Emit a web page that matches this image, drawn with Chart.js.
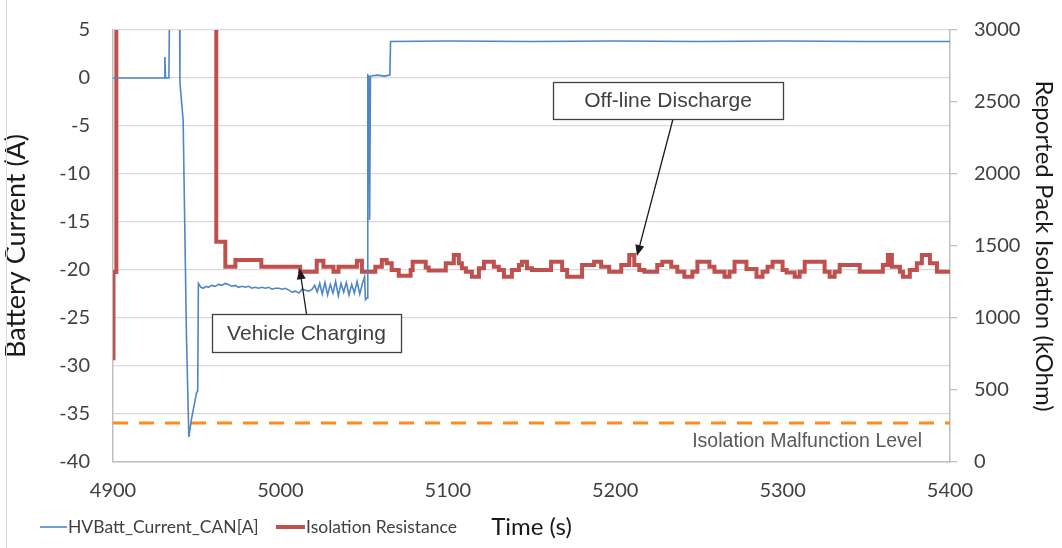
<!DOCTYPE html>
<html lang="en">
<head>
<meta charset="utf-8">
<title>Battery current and pack isolation</title>
<script src="https://cdn.jsdelivr.net/npm/chart.js"></script>
<style>
  html, body { margin: 0; padding: 0; background: #fff; }
  #wrap { position: relative; width: 1062px; height: 548px; }
  canvas { display: block; }
</style>
</head>
<body>
<div id="wrap"><canvas id="chart" width="1062" height="548"></canvas></div>
<script>
// axis ticks
const timeTicks = [4900, 5000, 5100, 5200, 5300, 5400];
const currentTicks = [-40, -35, -30, -25, -20, -15, -10, -5, 0, 5];
const isolationTicks = [0, 500, 1000, 1500, 2000, 2500, 3000];

// HVBatt_Current_CAN[A] (left axis)
const currentTime = [4900, 4930.6, 4931.0, 4931.4, 4933.4, 4934.0, 4939.6, 4940.0, 4941.9, 4943.9, 4945.3,
  4946.8, 4949.9, 4950.6, 4951.0, 4952.5, 4954.0, 4955.5, 4957.0, 4959.0, 4961.0, 4963.0, 4965.0,
  4967.0, 4969.0, 4971.0, 4973.0, 4975.0, 4977.0, 4979.0, 4981.0, 4983.0, 4985.0, 4987.0, 4989.0,
  4991.0, 4993.0, 4995.0, 4997.0, 4999.0, 5001.0, 5003.0, 5005.0, 5007.0, 5009.0, 5011.0, 5013.0,
  5015.0, 5017.0, 5019.0, 5020.5, 5022.0, 5023.5, 5025.0, 5026.6, 5028.2, 5029.8, 5031.4, 5033.0,
  5034.6, 5036.2, 5037.8, 5039.4, 5041.0, 5042.6, 5044.2, 5045.8, 5047.4, 5049.0, 5050.3, 5050.8,
  5051.8, 5052.2, 5052.8, 5053.3, 5053.8, 5058.0, 5062.0, 5065.4, 5065.8, 5100, 5150, 5200, 5250,
  5300, 5350, 5400];
const currentAmps = [0, 0, 2.2, 0, 0, 12, 12, -0.5, -4.4, -27, -37.4,
  -35.6, -32.8, -32.6, -21.4, -21.8, -21.9, -21.7, -21.8, -21.6, -21.7, -21.5, -21.6,
  -21.4, -21.5, -21.7, -21.6, -21.8, -21.7, -21.8, -21.7, -21.9, -21.8, -21.9, -21.8,
  -21.9, -21.8, -22.0, -21.9, -21.9, -22.0, -21.9, -22.1, -22.3, -22.2, -22.4, -22.0,
  -22.1, -22.2, -22.0, -21.6, -22.3, -21.4, -22.5, -21.3, -22.6, -21.5, -22.4, -21.2,
  -22.7, -21.4, -22.3, -21.3, -22.6, -21.5, -22.4, -21.2, -22.5, -21.4, -20.7, -23.1,
  -22.9, 0.3, 0.2, -14.8, 0.2, 0.3, 0.2, 0.3, 3.8, 3.85, 3.8, 3.85, 3.8,
  3.85, 3.8, 3.8];

// Isolation Resistance in kOhm (right axis), value holds until the next time
const isoTime = [4900.0, 4900.3, 4902.0, 4961.7, 4967.1, 4973.1, 4988.6, 5011.8, 5021.7, 5025.7,
  5031.7, 5034.7, 5045.7, 5048.7, 5056.7, 5060.6, 5063.5, 5066.5, 5070.7, 5077.8, 5079.0, 5086.8,
  5088.6, 5098.8, 5103.6, 5106.6, 5108.4, 5110.8, 5114.4, 5118.6, 5121.6, 5127.5, 5130.5, 5133.5,
  5138.3, 5142.5, 5144.3, 5147.3, 5150.3, 5161.7, 5168.3, 5171.3, 5180.2, 5187.4, 5191.6, 5196.4,
  5203.6, 5208.4, 5211.4, 5214.4, 5217.4, 5225.1, 5228.1, 5233.5, 5237.1, 5241.3, 5246.1, 5249.1,
  5256.3, 5259.3, 5265.3, 5268.3, 5271.3, 5278.4, 5284.4, 5288.0, 5291.0, 5294.0, 5300.0, 5302.4,
  5307.2, 5310.2, 5313.2, 5325.1, 5328.1, 5331.1, 5334.1, 5346.1, 5359.9, 5362.9, 5365.3, 5370.1,
  5371.9, 5376.0, 5380.2, 5383.2, 5388.0, 5392.2, 5400.0];
const isoKohm = [720, 1320, 3600, 1530, 1356, 1403, 1356, 1321, 1398, 1356,
  1321, 1356, 1398, 1321, 1356, 1403, 1380, 1333, 1293, 1333, 1391, 1350,
  1330, 1380, 1437, 1380, 1345, 1322, 1287, 1345, 1391, 1356, 1333, 1287,
  1333, 1368, 1391, 1345, 1333, 1391, 1333, 1287, 1368, 1391, 1356, 1322,
  1368, 1437, 1368, 1333, 1322, 1368, 1391, 1356, 1322, 1287, 1322, 1391,
  1356, 1322, 1287, 1322, 1391, 1340, 1287, 1322, 1356, 1391, 1333, 1316,
  1287, 1322, 1391, 1322, 1287, 1322, 1368, 1322, 1368, 1437, 1356, 1322,
  1287, 1333, 1380, 1437, 1380, 1322, 1322];

// Isolation malfunction level (right axis)
const limitTime = [4900, 5400];
const limitKohm = [270, 270];

// callouts: text and the point each arrow points to
const calloutText = ['Vehicle Charging', 'Off-line Discharge'];
const calloutTime = [5011.5, 5213];
const calloutKohm = [1345, 1430];

const toPoints = (xs, ys) => xs.map((x, i) => ({ x: x, y: ys[i] }));
const tickFont = { family: 'Lato', size: 20 };
const plain = v => String(v);
const noPad = s => { s.paddingTop = 0; s.paddingBottom = 0; };

function drawArrow(ctx, sx, sy, tx, ty) {
  const ang = Math.atan2(ty - sy, tx - sx);
  const len = 11, half = 4.5;
  ctx.beginPath();
  ctx.moveTo(sx, sy);
  ctx.lineTo(tx - Math.cos(ang) * len * 0.8, ty - Math.sin(ang) * len * 0.8);
  ctx.stroke();
  ctx.beginPath();
  ctx.moveTo(tx, ty);
  ctx.lineTo(tx - Math.cos(ang) * len - Math.sin(ang) * half, ty - Math.sin(ang) * len + Math.cos(ang) * half);
  ctx.lineTo(tx - Math.cos(ang) * len + Math.sin(ang) * half, ty - Math.sin(ang) * len - Math.cos(ang) * half);
  ctx.closePath();
  ctx.fill();
}

const notes = {
  id: 'notes',
  afterDraw(chart) {
    const { ctx, scales: { x, y2 } } = chart;
    ctx.save();

    // frame edge
    ctx.strokeStyle = '#d9d9d9';
    ctx.lineWidth = 1;
    ctx.beginPath();
    ctx.moveTo(6.5, 0);
    ctx.lineTo(6.5, 548);
    ctx.stroke();

    // legend
    ctx.font = '17.5px Lato';
    ctx.fillStyle = '#404040';
    ctx.textBaseline = 'middle';
    ctx.textAlign = 'left';
    ctx.strokeStyle = '#4f86c6';
    ctx.lineWidth = 1.6;
    ctx.beginPath(); ctx.moveTo(40, 527); ctx.lineTo(67, 527); ctx.stroke();
    ctx.fillText(chart.data.datasets[0].label, 68, 527);
    ctx.strokeStyle = '#c0504d';
    ctx.lineWidth = 4;
    ctx.beginPath(); ctx.moveTo(276, 527); ctx.lineTo(305, 527); ctx.stroke();
    ctx.fillText(chart.data.datasets[1].label, 306, 527);

    // malfunction level label
    ctx.font = '19.5px "Liberation Sans"';
    ctx.fillStyle = '#595959';
    ctx.textAlign = 'right';
    ctx.fillText(chart.data.datasets[2].label, 922, 442);

    // callout boxes with arrows
    const boxes = [
      { left: 212, top: 314, w: 189, h: 38, sx: 306.5, sy: 314 },
      { left: 553, top: 82, w: 230, h: 37, sx: 673, sy: 119 }
    ];
    calloutText.forEach((text, i) => {
      const b = boxes[i];
      const tx = x.getPixelForValue(calloutTime[i]);
      const ty = y2.getPixelForValue(calloutKohm[i]);
      ctx.strokeStyle = '#1a1a1a';
      ctx.fillStyle = '#1a1a1a';
      ctx.lineWidth = 1.3;
      drawArrow(ctx, b.sx, b.sy, tx, ty);
      ctx.fillStyle = '#fff';
      ctx.fillRect(b.left, b.top, b.w, b.h);
      ctx.strokeStyle = '#404040';
      ctx.lineWidth = 1.3;
      ctx.strokeRect(b.left + 0.5, b.top + 0.5, b.w, b.h);
      ctx.font = '21px "Liberation Sans"';
      ctx.fillStyle = '#404040';
      ctx.textAlign = 'center';
      ctx.fillText(text, b.left + b.w / 2, b.top + b.h / 2 + 1);
    });
    ctx.restore();
  }
};

new Chart(document.getElementById('chart'), {
  type: 'line',
  data: {
    datasets: [
      {
        label: 'HVBatt_Current_CAN[A]',
        data: toPoints(currentTime, currentAmps),
        yAxisID: 'y',
        borderColor: '#4f86c6',
        borderWidth: 1.6,
        pointRadius: 0,
        order: 0
      },
      {
        label: 'Isolation Resistance',
        data: toPoints(isoTime, isoKohm),
        yAxisID: 'y2',
        borderColor: '#c0504d',
        borderWidth: 4,
        stepped: 'before',
        pointRadius: 0,
        order: 1
      },
      {
        label: 'Isolation Malfunction Level',
        data: toPoints(limitTime, limitKohm),
        yAxisID: 'y2',
        borderColor: '#ff8a1e',
        borderWidth: 3,
        borderDash: [15, 11],
        pointRadius: 0,
        order: 2
      }
    ]
  },
  options: {
    responsive: false,
    animation: false,
    devicePixelRatio: 1,
    layout: { padding: { top: 30, left: 0, right: 0, bottom: 0 } },
    plugins: { legend: { display: false }, tooltip: { enabled: false } },
    scales: {
      x: {
        type: 'linear',
        min: 4900,
        max: 5400,
        afterBuildTicks: s => { s.ticks = timeTicks.map(v => ({ value: v })); },
        afterFit: s => { s.height = 86; s.paddingLeft = 0; s.paddingRight = 0; },
        ticks: { font: tickFont, color: '#404040', padding: 17, maxRotation: 0, autoSkip: false, callback: plain },
        grid: { display: false, drawTicks: false },
        border: { display: true, color: '#bfbfbf', width: 1.5 },
        title: { display: true, text: 'Time (s)', font: { family: 'Lato', size: 24 }, color: '#1a1a1a', padding: { top: 0, bottom: 6 } }
      },
      y: {
        position: 'left',
        min: -40,
        max: 5,
        afterBuildTicks: s => { s.ticks = currentTicks.map(v => ({ value: v })); },
        afterFit: s => { s.width = 113; noPad(s); },
        ticks: { font: tickFont, color: '#404040', padding: 23, callback: plain },
        grid: { color: '#d9d9d9', lineWidth: 1.3, drawTicks: false },
        border: { display: true, color: '#bfbfbf', width: 1.5 },
        title: { display: true, text: 'Battery Current (A)', font: { family: 'Lato', size: 27 }, color: '#1a1a1a', padding: { top: 0, bottom: 0 } }
      },
      y2: {
        position: 'right',
        min: 0,
        max: 3000,
        afterBuildTicks: s => { s.ticks = isolationTicks.map(v => ({ value: v })); },
        afterFit: s => { s.width = 112; noPad(s); },
        ticks: { font: tickFont, color: '#404040', padding: 17, callback: plain },
        grid: { drawOnChartArea: false, drawTicks: true, tickLength: 7, color: '#bfbfbf', lineWidth: 1.3 },
        border: { display: true, color: '#bfbfbf', width: 1.5 },
        title: { display: true, text: 'Reported Pack Isolation (kOhm)', font: { family: 'Lato', size: 24 }, color: '#1a1a1a', padding: { top: 4, bottom: 0 } }
      }
    }
  },
  plugins: [notes]
});
</script>
</body>
</html>
